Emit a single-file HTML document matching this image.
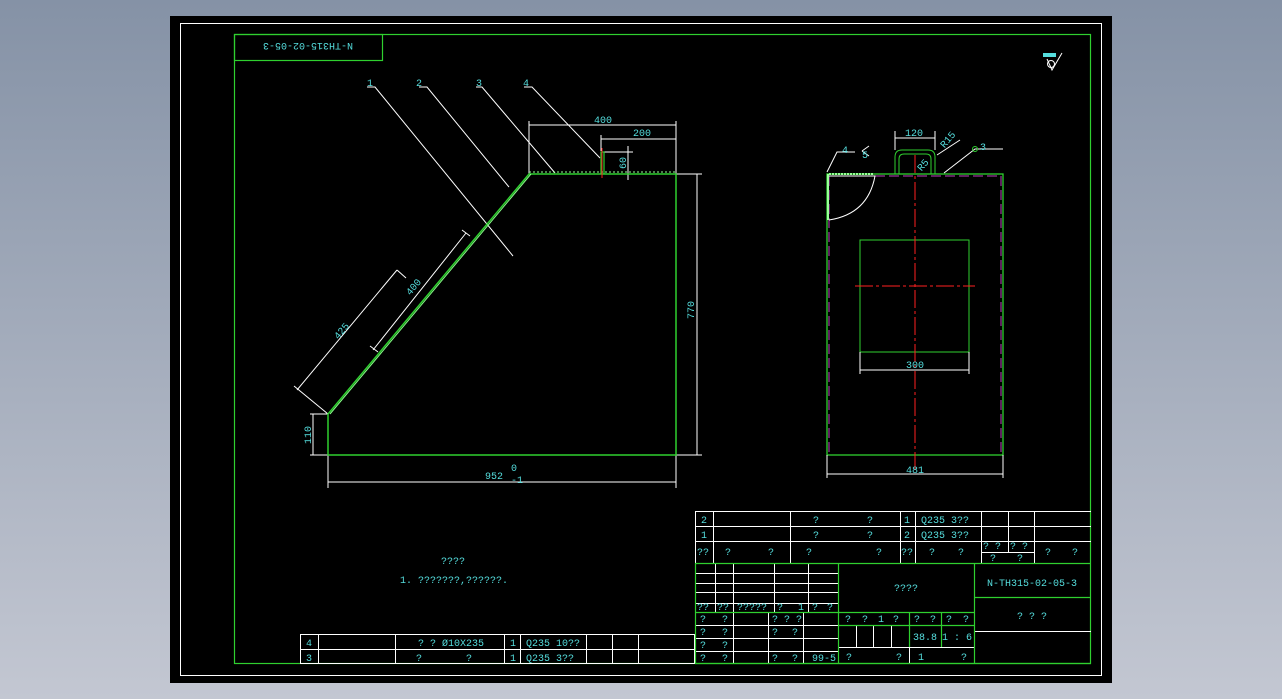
<!DOCTYPE html>
<html><head><meta charset="utf-8"><style>
html,body{margin:0;padding:0;width:1282px;height:699px;overflow:hidden;background:linear-gradient(#8592a6,#c3c7d2);}
svg{position:absolute;left:0;top:0}
text{font-family:"Liberation Mono",monospace;fill:#55dede;font-size:10px}
</style></head><body>
<svg width="1282" height="699" viewBox="0 0 1282 699">
<rect x="170" y="16" width="942" height="667" fill="#000"/>
<rect x="180.5" y="23.5" width="921" height="652" fill="none" stroke="#fff" stroke-width="1"/>
<rect x="234.5" y="34.5" width="856" height="629" fill="none" stroke="#2fd02f" stroke-width="1.2"/>
<rect x="234.5" y="34.5" width="148" height="26" fill="none" stroke="#2fd02f" stroke-width="1.2"/>
<text x="308" y="51" text-anchor="middle" font-size="12" transform="rotate(180 308 47)">N-TH315-02-05-3</text>

<!-- roughness symbol -->
<rect x="1043" y="53" width="13" height="4" fill="#55dede"/>
<path d="M1047 59 L1052 70 L1062 53" stroke="#fff" fill="none"/>
<circle cx="1051" cy="64" r="3.5" stroke="#fff" fill="none"/>

<!-- LEFT VIEW -->
<g stroke="#fff" stroke-width="1" fill="none">
<path d="M367 87 L375 87 L513 256"/>
<path d="M419 87 L427 87 L509 187"/>
<path d="M476 87 L482 87 L555 173"/>
<path d="M524 87 L532 87 L600 158"/>
<path d="M529 174 V121 M676 174 V121 M529 125 H676"/>
<path d="M601 151 V135 M601 139 H676"/>
<path d="M604 152 H633 M604 174 H633 M628 146 V180"/>
<path d="M676 174 H702 M676 455 H702 M697 174 V455"/>
<path d="M328 455 V488 M676 455 V488 M328 482 H676"/>
<path d="M328 414 H310 M328 455 H310 M313 414 V455"/>
<path d="M328 414 L294 386 M297 390 L397 270 M397 270 L406 278"/>
<path d="M373 350 L466 233 M378 352 L370 346 M470 236 L462 230"/>
</g>
<g stroke="#2fd02f" fill="none">
<path d="M529 174 H676 V455 H328 V414 Z" stroke-width="1.5"/>
<path d="M529 172 H676" stroke="#9f9" stroke-width="1" stroke-dasharray="2 2"/>
<path d="M601 174 V152 H604 V174" stroke-width="1.2"/>
<path d="M330 414 L531 174" stroke="#8f8" stroke-width="1"/>
</g>
<path d="M602 148 V178" stroke="#ff2020" stroke-width="1"/>
<text x="367" y="86">1</text><text x="416" y="86">2</text><text x="476" y="86">3</text><text x="523" y="86">4</text>
<text x="603" y="123" text-anchor="middle">400</text>
<text x="642" y="136" text-anchor="middle">200</text>
<text x="626" y="163" transform="rotate(-90 626 163)" text-anchor="middle">60</text>
<text x="694" y="310" transform="rotate(-90 694 310)" text-anchor="middle">770</text>
<text x="311" y="435" transform="rotate(-90 311 435)" text-anchor="middle">110</text>
<text x="344" y="333" transform="rotate(-50 344 333)" text-anchor="middle">425</text>
<text x="416" y="289" transform="rotate(-50 416 289)" text-anchor="middle">400</text>
<text x="494" y="479" text-anchor="middle">952</text><text x="511" y="471" font-size="8">0</text><text x="511" y="483" font-size="8">-1</text>

<!-- RIGHT VIEW -->
<g fill="none">
<rect x="827" y="174" width="176" height="281" stroke="#2fd02f" stroke-width="1.3"/>
<path d="M829 176 V455 M1001 176 V455 M875 176 H1001" stroke="#c040c0" stroke-dasharray="10 4"/>
<path d="M895 174 V157 Q895 150 902 150 H928 Q935 150 935 157 V174 M899 174 V159 Q899 154 904 154 H926 Q931 154 931 159 V174" stroke="#2fd02f"/>
<rect x="860" y="240" width="109" height="112" stroke="#2fd02f"/>
<path d="M915 155 V470 M855 286 H975" stroke="#ff2020" stroke-dasharray="18 3 3 3"/>
<path d="M829 176 H875 Q868 214 829 220" stroke="#fff"/>
<path d="M828 174 V220" stroke="#9f9" stroke-width="2"/>
<path d="M829 174 H873" stroke="#9f9" stroke-width="2" stroke-dasharray="2 1"/>
<g stroke="#fff">
<path d="M895 150 V131 M935 150 V131 M895 138 H935"/>
<path d="M860 352 V374 M969 352 V374 M860 370 H969"/>
<path d="M827 455 V478 M1003 455 V478 M827 474 H1003"/>
<path d="M827 172 L837 152 H855 M862 151 L869 146 M862 151 L869 156"/>
<path d="M944 173 L975 149 L1003 149"/>
<path d="M937 155 L960 140"/>
</g>
<circle cx="975" cy="149" r="2.5" stroke="#2fd02f"/>
</g>
<text x="914" y="136" text-anchor="middle">120</text>
<text x="915" y="368" text-anchor="middle">300</text>
<text x="915" y="473" text-anchor="middle">481</text>
<text x="842" y="153">4</text><text x="862" y="158">5</text>
<text x="980" y="150">3</text>
<text x="940" y="145" transform="rotate(-50 946 142)">R15</text>
<text x="917" y="170" transform="rotate(-50 921 166)">R5</text>

<!-- NOTES -->
<text x="453" y="564" text-anchor="middle" font-size="11">????</text>
<text x="454" y="583" text-anchor="middle" font-size="11">1. ???????,??????.</text>

<!-- bottom parts table -->
<g stroke="#fff" fill="none">
<rect x="300.5" y="634.5" width="394" height="29"/>
<path d="M300 649.5 H695 M318.5 634 V664 M395.5 634 V664 M504.5 634 V664 M520.5 634 V664 M586.5 634 V664 M612.5 634 V664 M638.5 634 V664"/>
</g>
<text x="306" y="646">4</text><text x="306" y="661">3</text>
<text x="418" y="646">?   ?  Ø10X235</text><text x="416" y="661">?</text><text x="466" y="661">?</text>
<text x="510" y="646">1</text><text x="510" y="661">1</text>
<text x="526" y="646">Q235  10??</text><text x="526" y="661">Q235  3??</text>

<!-- title block upper -->
<g stroke="#fff" fill="none">
<path d="M695 511.5 H1091 M695 526.5 H1091 M695 541.5 H1091 M981 552.5 H1034"/>
<path d="M695.5 511 V563 M713.5 511 V563 M790.5 511 V563 M900.5 511 V563 M915.5 511 V563 M981.5 511 V563 M1008.5 511 V552 M1034.5 511 V563"/>
</g>
<text x="701" y="523">2</text><text x="701" y="538">1</text><text x="697" y="555">??</text>
<text x="813" y="523">?</text><text x="867" y="523">?</text><text x="813" y="538">?</text><text x="867" y="538">?</text>
<text x="725" y="555">?</text><text x="768" y="555">?</text><text x="806" y="555">?</text><text x="876" y="555">?</text>
<text x="904" y="523">1</text><text x="904" y="538">2</text><text x="901" y="555">??</text>
<text x="921" y="523">Q235  3??</text><text x="921" y="538">Q235  3??</text>
<text x="929" y="555">?</text><text x="958" y="555">?</text>
<text x="983" y="549">? ?</text><text x="1010" y="549">? ?</text><text x="990" y="561">?</text><text x="1017" y="561">?</text>
<text x="1045" y="555">?</text><text x="1072" y="555">?</text>

<!-- title block lower -->
<g stroke="#fff" fill="none">
<path d="M695 573.5 H838 M695 583.5 H838 M695 592.5 H838 M695 603.5 H838 M695 625.5 H838 M695 638.5 H838 M695 651.5 H838"/>
<path d="M838 647.5 H974"/>
<path d="M715.5 563 V612 M733.5 563 V664 M774.5 563 V612 M808.5 563 V612 M768.5 612 V664 M803.5 612 V664"/>
<path d="M856.5 625 V647 M873.5 625 V647 M891.5 625 V647 M909.5 647 V664"/>
<path d="M974 631.5 H1091"/>
</g>
<g stroke="#2fd02f" fill="none" stroke-width="1.2">
<path d="M695 563.5 H1091 M695.5 563 V664 M695 612.5 H974 M838 625.5 H974 M838.5 563 V664 M909.5 612 V647 M941.5 612 V647 M974.5 563 V664 M974 597.5 H1091 M695 663.5 H1091"/>
</g>
<text x="697" y="610" font-size="9">??</text><text x="717" y="610" font-size="9">??</text><text x="737" y="610" font-size="9">?????</text><text x="777" y="610" font-size="9">?</text><text x="798" y="610" font-size="9">1</text><text x="812" y="610" font-size="9">?</text><text x="827" y="610" font-size="9">?</text>
<text x="700" y="622">?</text><text x="722" y="622">?</text><text x="772" y="622">? ? ?</text>
<text x="700" y="635">?</text><text x="722" y="635">?</text><text x="772" y="635">?</text><text x="792" y="635">?</text>
<text x="700" y="648">?</text><text x="722" y="648">?</text>
<text x="700" y="661">?</text><text x="722" y="661">?</text><text x="772" y="661">?</text><text x="792" y="661">?</text><text x="812" y="661" font-size="9">99-5</text>
<text x="906" y="591" text-anchor="middle" font-size="14">????</text>
<text x="845" y="622">?</text><text x="862" y="622">?</text><text x="878" y="622">1</text><text x="893" y="622">?</text><text x="914" y="622">?</text><text x="930" y="622">?</text><text x="946" y="622">?</text><text x="963" y="622">?</text>
<text x="925" y="640" text-anchor="middle">38.8</text><text x="957" y="640" text-anchor="middle">1 : 6</text>
<text x="846" y="660">?</text><text x="896" y="660">?</text><text x="918" y="660">1</text><text x="961" y="660">?</text>
<text x="1032" y="586" text-anchor="middle" font-size="14">N-TH315-02-05-3</text>
<text x="1032" y="619" text-anchor="middle" font-size="14">?  ?  ?</text>
</svg>
</body></html>
